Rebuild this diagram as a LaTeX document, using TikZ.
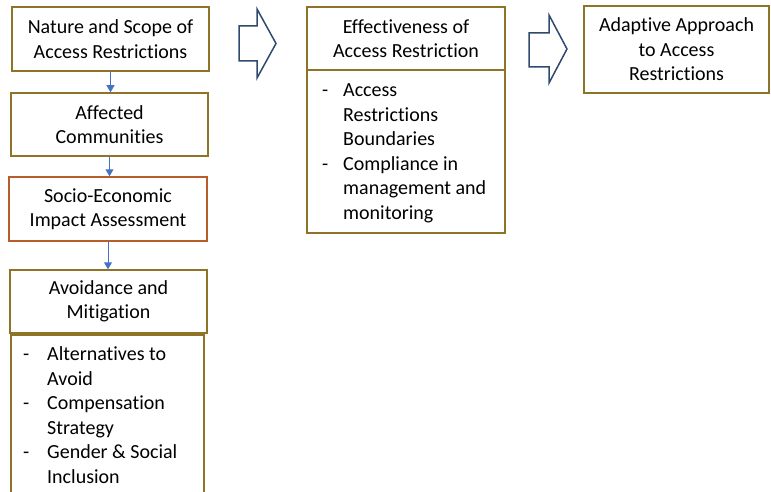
\documentclass[tikz,border=0pt]{standalone}
\usepackage{fontspec}
\setmainfont[Ligatures=NoCommon]{Carlito}
\usetikzlibrary{arrows.meta}
\definecolor{boxgold}{HTML}{8F7428}
\definecolor{boxrust}{HTML}{B85C2C}
\definecolor{connblue}{HTML}{4472C4}
\definecolor{arrowblue}{HTML}{2F4A70}
\tikzset{
  box/.style={draw=boxgold, line width=1.5pt, fill=white, inner sep=0pt, align=center,
              font=\fontsize{20}{24.5}\selectfont},
  listtext/.style={anchor=north west, inner sep=0pt, align=left,
              font=\fontsize{20}{24.5}\selectfont},
  conn/.style={draw=connblue, line width=1pt, -{Triangle[length=7pt,width=8pt]}},
  blockarrow/.style={draw=arrowblue, line width=1.5pt, fill=white, line join=miter},
}
\begin{document}
\begin{tikzpicture}[x=1pt,y=-1pt]
\useasboundingbox (0,0) rectangle (771,492);
% left column
\node[box, minimum width=197pt, minimum height=64pt] (b1) at (110.5,39) {Nature and Scope of\\Access Restrictions};
\node[box, minimum width=197pt, minimum height=63pt] (b2) at (109.5,124.5) {Affected\\Communities};
\node[box, draw=boxrust, minimum width=198pt, minimum height=64pt] (b3) at (108,209) {Socio-Economic\\Impact Assessment};
\node[box, minimum width=197pt, minimum height=63pt] (b4) at (108.5,301.5) {Avoidance and\\Mitigation};
\node[box, minimum width=193pt, minimum height=170pt] (b5) at (107.5,420) {};
\node[listtext] (l5) at (23,343.3) {\strut\makebox[24pt][l]{-}Alternatives to\\
  \hspace*{24pt}Avoid\\
  \makebox[24pt][l]{-}Compensation\\
  \hspace*{24pt}Strategy\\
  \makebox[24pt][l]{-}Gender \& Social\\
  \hspace*{24pt}Inclusion};
\draw[conn] (b1.south) -- (b1.south |- b2.north);
\draw[conn] (b2.south) -- (b2.south |- b3.north);
\draw[conn] (b3.south) -- (b3.south |- b4.north);
% middle column
\node[box, minimum width=198pt, minimum height=163pt] (e2) at (406,151.5) {};
\node[box, minimum width=198pt, minimum height=63pt] (e1) at (406,38.5) {Effectiveness of\\Access Restriction};
\node[listtext] (l2) at (322,79.3) {\strut\makebox[21pt][l]{-}Access\\
  \hspace*{21pt}Restrictions\\
  \hspace*{21pt}Boundaries\\
  \makebox[21pt][l]{-}Compliance in\\
  \hspace*{21pt}management and\\
  \hspace*{21pt}monitoring};
% right column
\node[box, minimum width=185pt, minimum height=87pt] (a1) at (676.5,49.5) {Adaptive Approach\\to Access\\Restrictions};
% block arrows
\draw[blockarrow] (239,26) -- (257,26) -- (257,9) -- (276,43.5) -- (257,78) -- (257,61) -- (239,61) -- cycle;
\draw[blockarrow] (529,33) -- (549,33) -- (549,15) -- (567,49) -- (549,83) -- (549,67) -- (529,67) -- cycle;
\end{tikzpicture}
\end{document}
